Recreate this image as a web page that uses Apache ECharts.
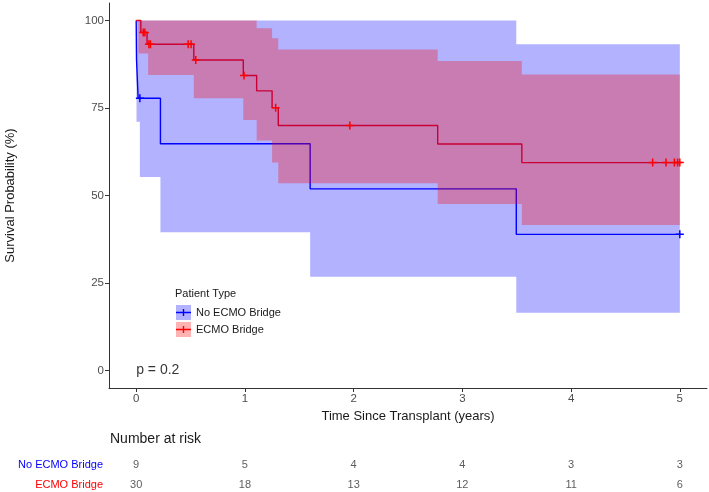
<!DOCTYPE html>
<html>
<head>
<meta charset="utf-8">
<script src="https://cdn.jsdelivr.net/npm/echarts@6/dist/echarts.min.js"></script>
<style>
html,body{margin:0;padding:0;background:#fff;}
#chart{width:709px;height:492px;}
</style>
</head>
<body>
<div id="chart"></div>
<script>
// ---- Data ----
const groupNames = ['No ECMO Bridge', 'ECMO Bridge'];

// Kaplan-Meier curves (value holds from time onward)
const noEcmoTimes = [0, 0.003, 0.018, 0.223, 1.6, 3.496, 5.0];
const noEcmoSurv  = [100, 88.9, 77.8, 64.8, 51.9, 38.9, 38.9];
const ecmoTimes   = [0, 0.043, 0.10, 0.53, 0.985, 1.108, 1.25, 1.307, 2.773, 3.547, 5.0];
const ecmoSurv    = [100, 96.6, 93.2, 88.7, 84.3, 79.9, 75.1, 70.0, 64.7, 59.4, 59.4];

// Confidence bands (segment start times, lower, upper); bands end at bandEnd
const bandEnd = 5.0;
const noEcmoBandT  = [0.003, 0.034, 0.223, 1.6, 3.496];
const noEcmoBandLo = [71.1, 55.3, 39.5, 26.8, 16.5];
const noEcmoBandHi = [100, 100, 100, 100, 93.2];
const ecmoBandT  = [0.02, 0.11, 0.53, 0.985, 1.108, 1.25, 1.307, 2.773, 3.547];
const ecmoBandLo = [90.6, 84.4, 77.8, 71.6, 65.7, 59.4, 53.5, 47.6, 41.6];
const ecmoBandHi = [100, 100, 100, 100, 97.8, 94.9, 91.7, 88.4, 84.6];

// Censor marks
const noEcmoCensT = [0.034, 5.0];
const noEcmoCensS = [77.8, 38.9];
const ecmoCensT = [0.065, 0.08, 0.117, 0.131, 0.478, 0.505, 0.548, 0.992, 1.283, 1.965, 4.75, 4.873, 4.95, 4.98, 5.0];
const ecmoCensS = [96.6, 96.6, 93.2, 93.2, 93.2, 93.2, 88.7, 84.3, 75.1, 70.0, 59.4, 59.4, 59.4, 59.4, 59.4];

// Axes ticks
const xTicks = [0, 1, 2, 3, 4, 5];
const yTicks = [0, 25, 50, 75, 100];

// Number at risk
const riskTimes = [0, 1, 2, 3, 4, 5];
const riskNoEcmo = [9, 5, 4, 4, 3, 3];
const riskEcmo = [30, 18, 13, 12, 11, 6];

const pValueText = 'p = 0.2';

// ---- Styling ----
const FONT = 'Liberation Sans, Arial, sans-serif';
const BLUE = '#0000ff', RED = '#ff0000';
const BLUE_FILL = 'rgba(0,0,255,0.3)', RED_FILL = 'rgba(255,0,0,0.3)';
const crossPath = 'path://M0,3.25L8,3.25L8,4.75L0,4.75Z M3.25,0L4.75,0L4.75,8L3.25,8Z';
const legendCross = 'path://M0,0L0.01,0L0,0.01Z M15,15L14.99,15L15,14.99Z M0,6.8L15,6.8L15,8.2L0,8.2Z M6.8,4L8.2,4L8.2,11L6.8,11Z';

function pairs(xs, ys) { return xs.map((x, i) => [x, ys[i]]); }

function bandRenderer(times, lo, hi, tEnd, fill) {
  return function (params, api) {
    if (params.dataIndex !== 0) return null;
    const top = [], bot = [];
    for (let i = 0; i < times.length; i++) {
      const t0 = times[i];
      const t1 = i + 1 < times.length ? times[i + 1] : tEnd;
      top.push(api.coord([t0, hi[i]]), api.coord([t1, hi[i]]));
      bot.push(api.coord([t0, lo[i]]), api.coord([t1, lo[i]]));
    }
    return { type: 'polygon', shape: { points: top.concat(bot.reverse()) }, style: { fill: fill } };
  };
}

const riskData = [];
riskTimes.forEach((t, i) => {
  riskData.push([t, groupNames[0], riskNoEcmo[i]]);
  riskData.push([t, groupNames[1], riskEcmo[i]]);
});

const chart = echarts.init(document.getElementById('chart'), null, { renderer: 'canvas' });
chart.setOption({
  animation: false,
  backgroundColor: '#ffffff',
  textStyle: { fontFamily: FONT },
  title: [
    { text: 'Patient Type', left: 175, top: 288, padding: 0,
      textStyle: { fontFamily: FONT, fontSize: 11, fontWeight: 'normal', color: '#1a1a1a' } },
    { text: 'Number at risk', left: 110, top: 432, padding: 0,
      textStyle: { fontFamily: FONT, fontSize: 14, fontWeight: 'normal', color: '#1a1a1a' } }
  ],
  legend: [
    { orient: 'vertical', left: 176, top: 305, itemWidth: 15, itemHeight: 15, itemGap: 2, padding: 0,
      selectedMode: false,
      textStyle: { fontFamily: FONT, fontSize: 11, color: '#1a1a1a', lineHeight: 15 },
      data: [
        { name: groupNames[0], icon: 'rect', itemStyle: { color: BLUE_FILL, borderWidth: 0 } },
        { name: groupNames[1], icon: 'rect', itemStyle: { color: RED_FILL, borderWidth: 0 } }
      ] },
    { orient: 'vertical', left: 176, top: 305, itemWidth: 15, itemHeight: 15, itemGap: 2, padding: 0,
      selectedMode: false,
      textStyle: { fontFamily: FONT, fontSize: 11, color: 'rgba(0,0,0,0)', lineHeight: 15 },
      data: [
        { name: groupNames[0], icon: legendCross, itemStyle: { color: BLUE, borderWidth: 0 } },
        { name: groupNames[1], icon: legendCross, itemStyle: { color: RED, borderWidth: 0 } }
      ] }
  ],
  grid: [
    { left: 109, right: 2, top: 3, bottom: 104, outerBoundsMode: 'none', containLabel: false },
    { left: 109, right: 2, top: 454.5, height: 40, outerBoundsMode: 'none', containLabel: false }
  ],
  xAxis: [
    { type: 'value', gridIndex: 0, min: -0.25, max: 5.25,
      name: 'Time Since Transplant (years)', nameLocation: 'middle', nameGap: 17,
      nameTextStyle: { fontFamily: FONT, fontSize: 13, color: '#1a1a1a' },
      axisLine: { show: true, onZero: false, lineStyle: { color: '#333', width: 1 } },
      axisTick: { show: true, length: 4, customValues: xTicks, lineStyle: { color: '#333' } },
      axisLabel: { customValues: xTicks, margin: 5, fontSize: 11.5, color: '#4d4d4d', fontFamily: FONT },
      splitLine: { show: false } },
    { type: 'value', gridIndex: 1, min: -0.25, max: 5.25, show: false }
  ],
  yAxis: [
    { type: 'value', gridIndex: 0, min: -5, max: 105,
      name: 'Survival Probability (%)', nameLocation: 'middle', nameGap: 92,
      nameTextStyle: { fontFamily: FONT, fontSize: 13, color: '#1a1a1a' },
      axisLine: { show: true, onZero: false, lineStyle: { color: '#333', width: 1 } },
      axisTick: { show: true, length: 4, customValues: yTicks, lineStyle: { color: '#333' } },
      axisLabel: { customValues: yTicks, margin: 5, fontSize: 11.5, color: '#4d4d4d', fontFamily: FONT },
      splitLine: { show: false } },
    { type: 'category', gridIndex: 1, data: groupNames, inverse: true,
      axisLine: { show: false }, axisTick: { show: false }, splitLine: { show: false },
      axisLabel: { margin: 6, fontSize: 11, fontFamily: FONT,
        color: function (v) { return v === groupNames[0] ? BLUE : RED; } } }
  ],
  series: [
    { name: groupNames[0], type: 'line', z: 1, step: 'end', showSymbol: false, symbol: 'none', silent: true,
      data: pairs(noEcmoTimes, noEcmoSurv), lineStyle: { color: BLUE, width: 1.4 }, itemStyle: { color: BLUE } },
    { name: groupNames[1], type: 'line', z: 1, step: 'end', showSymbol: false, symbol: 'none', silent: true,
      data: pairs(ecmoTimes, ecmoSurv), lineStyle: { color: RED, width: 1.4 }, itemStyle: { color: RED } },
    { type: 'custom', z: 2, silent: true, renderItem: bandRenderer(noEcmoBandT, noEcmoBandLo, noEcmoBandHi, bandEnd, BLUE_FILL),
      data: noEcmoBandT.map((t, i) => [t, noEcmoBandLo[i], noEcmoBandHi[i]]), encode: { x: 0, y: [1, 2] } },
    { type: 'custom', z: 2, silent: true, renderItem: bandRenderer(ecmoBandT, ecmoBandLo, ecmoBandHi, bandEnd, RED_FILL),
      data: ecmoBandT.map((t, i) => [t, ecmoBandLo[i], ecmoBandHi[i]]), encode: { x: 0, y: [1, 2] } },
    { type: 'scatter', z: 3, silent: true, symbol: crossPath, symbolSize: 8,
      data: pairs(noEcmoCensT, noEcmoCensS), itemStyle: { color: BLUE, opacity: 1 } },
    { type: 'scatter', z: 3, silent: true, symbol: crossPath, symbolSize: 8,
      data: pairs(ecmoCensT, ecmoCensS), itemStyle: { color: RED, opacity: 1 } },
    { type: 'scatter', z: 3, silent: true, symbolSize: 0, data: [[0, 0]],
      label: { show: true, position: 'right', distance: 0, formatter: pValueText,
        fontFamily: FONT, fontSize: 14, color: '#000' } },
    { type: 'scatter', silent: true, xAxisIndex: 1, yAxisIndex: 1, symbolSize: 0,
      data: riskData, encode: { x: 0, y: 1 },
      label: { show: true, position: 'inside', formatter: p => String(p.value[2]),
        fontFamily: FONT, fontSize: 11, color: '#333' } }
  ]
});
</script>
</body>
</html>
